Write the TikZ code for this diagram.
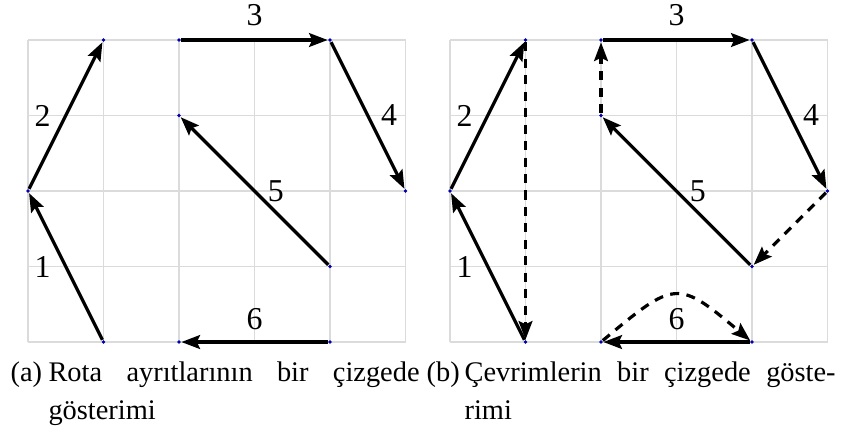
\documentclass[tikz,border=0pt]{standalone}
\usepackage{fontspec}
\setmainfont{Liberation Serif}
\usepackage{tikz}
\usetikzlibrary{arrows.meta,positioning}
\pgfdeclarelayer{bg}
\pgfsetlayers{bg,main}

\tikzset{
  gridline/.style={gray!28, line width=0.45pt},
  vtx/.style={circle, fill=blue!70!black, inner sep=0pt, minimum size=1.4pt},
  route/.style={line width=1.2pt, -{Stealth[length=7pt,width=5.2pt,inset=1.2pt]}},
  cycleedge/.style={route, dash pattern=on 3.4pt off 2.8pt},
  num/.style={inner sep=0pt, font=\fontsize{12}{14}\selectfont},
  captag/.style={inner sep=0pt, anchor=base west, font=\fontsize{10.7}{14.3}\selectfont},
  captext/.style={captag, text width=4.914cm, align=justify}
}

\begin{document}
\begin{tikzpicture}
  \useasboundingbox (-0.371,-1.192) rectangle (10.834,4.530);

  % both panels: grid, vertices, route edges
  \foreach \p/\dx in {l/0,r/5.589}{
    \begin{scope}[xshift=\dx cm]
      \begin{pgfonlayer}{bg}
        \draw[gridline] (0,0) grid (5,4);
      \end{pgfonlayer}
      \foreach \n/\x/\y in {a/1/0,b/0/2,c/1/4,d/2/4,e/4/4,f/5/2,g/4/1,h/2/3,i/2/0,j/4/0}
        \node[vtx] (\n\p) at (\x,\y) {};
      \begin{pgfonlayer}{bg}
        \draw[route] (a\p) -- node[num,left=5.1pt]{1} (b\p);
        \draw[route] (b\p) -- node[num,left=5.1pt]{2} (c\p);
        \draw[route] (d\p) -- node[num,above=4.7pt]{3} (e\p);
        \draw[route] (e\p) -- node[num,right=4.4pt]{4} (f\p);
        \draw[route] (g\p) -- node[num,right=4.4pt]{5} (h\p);
        \draw[route] (j\p) -- node[num,above=3.9pt]{6} (i\p);
      \end{pgfonlayer}
    \end{scope}
  }

  % closing the cycles
  \begin{pgfonlayer}{bg}
    \draw[cycleedge] (cr) -- (ar);
    \draw[cycleedge] (hr) -- (dr);
    \draw[cycleedge] (fr) -- (gr);
    \draw[cycleedge] (ir) to[out=40,in=140,looseness=1.65] (jr);
  \end{pgfonlayer}

  % captions
  \node[captag] (taga) at (-0.238,-0.526) {(a)};
  \node[captext] (capa) at (0.265,-0.526) {Rota ayrıtlarının bir çizgede\linebreak gösterimi};
  \node[captag] (tagb) at (5.272,-0.526) {(b)};
  \node[captext] (capb) at (5.775,-0.526) {Çevrimlerin bir çizgede göste-\linebreak rimi};
\end{tikzpicture}
\end{document}
